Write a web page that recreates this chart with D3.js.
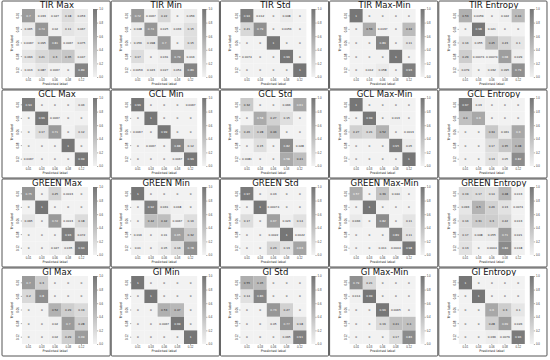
<!DOCTYPE html>
<html>
<head>
<meta charset="utf-8">
<style>
body { margin: 0; background: #fff; }
svg { font-family: "DejaVu Sans", sans-serif; }
</style>
<script src="https://cdn.jsdelivr.net/npm/d3@7"></script>
</head>
<body>
<svg id="cm" width="550" height="360"></svg>
<script>

// class labels, shared by both axes
var labels = ["0-01", "0-03", "0-06", "0-08", "0-12"];
var sources = ["TIR", "GCL", "GREEN", "GI"];
var measures = ["Max", "Min", "Std", "Max-Min", "Entropy"];
var cbTicks = [0, 0.2, 0.4, 0.6, 0.8, 1.0];

// normalized confusion matrices, rows = true label, cols = predicted
var tirMax = [[0.7, 0.033, 0.027, 0.18, 0.053], [0.065, 0.74, 0.02, 0.11, 0.067], [0.0067, 0.095, 0.81, 0.0067, 0.075], [0.093, 0.21, 0.3, 0.35, 0.047], [0.013, 0.087, 0.0067, 0, 0.89]];
var tirMin = [[0.72, 0.0067, 0.22, 0, 0.056], [0.048, 0.74, 0.025, 0.033, 0.15], [0.056, 0.098, 0.7, 0, 0.15], [0.17, 0, 0.031, 0.79, 0.016], [0.0056, 0.023, 0.027, 0.054, 0.89]];
var tirStd = [[0.94, 0.012, 0, 0.048, 0], [0.21, 0.79, 0, 0.0056, 0], [0, 0, 1, 0, 0], [0.0074, 0, 0, 0.99, 0], [0, 0, 0, 0, 1]];
var tirMaxMin = [[1, 0, 0, 0, 0], [0, 0.56, 0.0037, 0, 0.44], [0, 0, 0.89, 0, 0.11], [0, 0, 0, 1, 0], [0, 0.012, 0.058, 0, 0.93]];
var tirEntropy = [[0.53, 0.0059, 0, 0.022, 0.44], [0, 0.98, 0.021, 0, 0], [0.16, 0.055, 0.45, 0.23, 0.1], [0.29, 0.00074, 0.00074, 0.68, 0.029], [0.079, 0, 0.032, 0.095, 0.79]];

var gclMax = [[0.94, 0, 0, 0, 0.06], [0, 0.99, 0.0067, 0, 0], [0, 0.17, 0.71, 0, 0.12], [0, 0, 0, 1, 0], [0.0067, 0, 0, 0, 0.99]];
var gclMin = [[0.99, 0, 0, 0, 0.0067], [0, 1, 0, 0, 0], [0.0067, 0, 0.99, 0, 0], [0, 0.0067, 0, 0.88, 0.12], [0, 0, 0, 0.0067, 0.99]];
var gclStd = [[0.32, 0, 0, 0.066, 0.61], [0, 0.58, 0.27, 0.15, 0], [0.26, 0.28, 0.46, 0, 0], [0, 0.15, 0, 0.82, 0.028], [0.0081, 0, 0, 0.58, 0.41]];
var gclMaxMin = [[1, 0, 0, 0, 0], [0, 0.99, 0, 0.013, 0], [0.27, 0.21, 0.52, 0, 0.0013], [0, 0, 0, 0.95, 0.05], [0, 0, 0, 0, 1]];
var gclEntropy = [[0.97, 0.03, 0, 0, 0], [0.4, 0.6, 0, 0, 0], [0, 0, 0.34, 0.061, 0.6], [0, 0, 0.17, 0.35, 0.48], [0, 0, 0.13, 0.05, 0.82]];

var greenMax = [[0.75, 0, 0.25, 0.0013, 0], [0, 1, 0, 0, 0], [0.095, 0, 0.72, 0.0013, 0.18], [0, 0, 0, 0.93, 0.072], [0, 0, 0.027, 0.035, 0.94]];
var greenMin = [[1, 0, 0, 0, 0], [0, 0.92, 0.061, 0.018, 0], [0, 0.42, 0.42, 0.0067, 0.16], [0.016, 0, 0.01, 0.65, 0.32], [0.01, 0, 0.05, 0.16, 0.78]];
var greenStd = [[0.97, 0, 0.03, 0, 0], [0, 1, 0.00074, 0, 0], [0.17, 0, 0.67, 0.023, 0.14], [0, 0, 0.0022, 1, 0.0022], [0, 0, 0.23, 0.13, 0.63]];
var greenMaxMin = [[0.57, 0, 0.39, 0.044, 0], [0, 1, 0, 0, 0], [0.066, 0, 0.82, 0, 0.11], [0, 0, 0, 0.89, 0.11], [0, 0, 0.011, 0.0044, 0.98]];
var greenEntropy = [[0.19, 0.17, 0.14, 0.48, 0.013], [0.093, 0.5, 0.26, 0.13, 0.0074], [0.16, 0.31, 0.3, 0.22, 0.013], [0.17, 0.048, 0.055, 0.71, 0.021], [0.13, 0, 0.0044, 0.84, 0.018]];

var giMax = [[0.7, 0.3, 0, 0, 0], [0.2, 0.8, 0, 0, 0], [0, 0, 0.52, 0.29, 0.19], [0, 0, 0.02, 0.7, 0.28], [0, 0, 0.02, 0.29, 0.69]];
var giMin = [[1, 0, 0, 0, 0], [0, 1, 0, 0, 0], [0, 0, 0.53, 0.47, 0], [0, 0, 0.0067, 0.99, 0], [0, 0, 0, 0, 1]];
var giStd = [[0.55, 0.45, 0, 0, 0], [0.14, 0.86, 0, 0, 0], [0, 0, 0.73, 0.27, 0], [0, 0, 0.05, 0.77, 0.18], [0, 0, 0, 0.095, 0.91]];
var giMaxMin = [[0.79, 0.21, 0, 0, 0], [0.014, 0.99, 0, 0, 0], [0, 0, 0.99, 0.0065, 0], [0, 0, 0.19, 0.41, 0.4], [0, 0, 0, 0.17, 0.83]];
var giEntropy = [[1, 0, 0, 0, 0], [0, 1, 0, 0, 0], [0, 0, 0.6, 0.3, 0.1], [0, 0, 0.28, 0.69, 0.026], [0, 0, 0.036, 0.0079, 0.96]];

var matrices = [
    [tirMax, tirMin, tirStd, tirMaxMin, tirEntropy],
    [gclMax, gclMin, gclStd, gclMaxMin, gclEntropy],
    [greenMax, greenMin, greenStd, greenMaxMin, greenEntropy],
    [giMax, giMin, giStd, giMaxMin, giEntropy]
];

var svg = d3.select("#cm");

// panel grid
var px = d3.scaleLinear().domain([0, 5]).range([2, 548]);
var py = d3.scaleLinear().domain([0, 4]).range([1, 357]);

// inside one panel
var cx = d3.scaleBand().domain(labels).range([20, 86]);
var cy = d3.scaleBand().domain(labels).range([8, 76]);
var cb = d3.scaleLinear().domain([0, 1]).range([76, 8]);

var color = d3.scaleLinear().domain([0, 1]).range(["#f2f2f2", "#767676"]);
var fmt = d3.format(".2~g");

var grad = svg.append("defs").append("linearGradient")
    .attr("id", "cbGrad")
    .attr("x1", 0).attr("y1", 1).attr("x2", 0).attr("y2", 0);
grad.append("stop").attr("offset", "0%").attr("stop-color", color(0));
grad.append("stop").attr("offset", "100%").attr("stop-color", color(1));

matrices.forEach(function(row, r) {
    row.forEach(function(m, c) {
        var g = svg.append("g")
            .attr("transform", "translate(" + px(c) + "," + py(r) + ")");

        g.append("rect")
            .attr("x", 0).attr("y", 0)
            .attr("width", px(1) - px(0) - 1)
            .attr("height", py(1) - py(0) - 1)
            .attr("rx", 1)
            .style("fill", "white")
            .style("stroke", "#555")
            .style("stroke-width", 1);

        g.append("text")
            .attr("x", (cx.range()[0] + cx.range()[1]) / 2 + 2)
            .attr("y", 6.5)
            .attr("text-anchor", "middle")
            .style("font-size", "8.5px")
            .style("fill", "#111")
            .text(sources[r] + " " + measures[c]);

        var cells = [];
        m.forEach(function(vals, i) {
            vals.forEach(function(v, j) {
                cells.push({ t: labels[i], p: labels[j], v: v });
            });
        });

        g.selectAll(".cell")
            .data(cells)
            .enter().append("rect")
            .attr("class", "cell")
            .attr("x", function(d) { return cx(d.p); })
            .attr("y", function(d) { return cy(d.t); })
            .attr("width", cx.bandwidth())
            .attr("height", cy.bandwidth())
            .style("fill", function(d) { return color(d.v); });

        g.selectAll(".annot")
            .data(cells)
            .enter().append("text")
            .attr("class", "annot")
            .attr("x", function(d) { return cx(d.p) + cx.bandwidth() / 2; })
            .attr("y", function(d) { return cy(d.t) + cy.bandwidth() / 2; })
            .attr("text-anchor", "middle")
            .attr("dominant-baseline", "central")
            .style("font-size", "2.8px")
            .style("fill", function(d) { return d.v > 0.56 ? "#fff" : "#262626"; })
            .text(function(d) { return fmt(d.v); });

        // axes
        var xa = g.append("g")
            .attr("transform", "translate(0," + cy.range()[1] + ")")
            .call(d3.axisBottom(cx).tickSize(1.2).tickPadding(1));
        var ya = g.append("g")
            .attr("transform", "translate(" + cx.range()[0] + ",0)")
            .call(d3.axisLeft(cy).tickSize(1.2).tickPadding(1));
        ya.selectAll("text")
            .attr("transform", "rotate(-90)")
            .attr("x", 0)
            .attr("dy", 0)
            .attr("y", -2.8)
            .attr("text-anchor", "middle");

        var cbx = 91;
        g.append("rect")
            .attr("x", cbx).attr("y", cb(1))
            .attr("width", 4).attr("height", cb(0) - cb(1))
            .style("fill", "url(#cbGrad)");
        var ca = g.append("g")
            .attr("transform", "translate(" + (cbx + 4) + ",0)")
            .call(d3.axisRight(cb).tickValues(cbTicks).tickFormat(d3.format(".1f")).tickSize(1.2).tickPadding(1));

        [xa, ya, ca].forEach(function(a) {
            a.select(".domain").remove();
            a.selectAll("text").style("font-size", "2.8px").style("fill", "#333").attr("font-family", null);
            a.selectAll("line").style("stroke", "#333").style("stroke-width", 0.4);
        });

        g.append("text")
            .attr("x", (cx.range()[0] + cx.range()[1]) / 2)
            .attr("y", 84)
            .attr("text-anchor", "middle")
            .style("font-size", "3.4px")
            .style("fill", "#222")
            .text("Predicted label");

        g.append("text")
            .attr("transform", "translate(11," + (cy.range()[0] + cy.range()[1]) / 2 + ") rotate(-90)")
            .attr("text-anchor", "middle")
            .style("font-size", "3.4px")
            .style("fill", "#222")
            .text("True label");
    });
});

</script>
</body>
</html>
